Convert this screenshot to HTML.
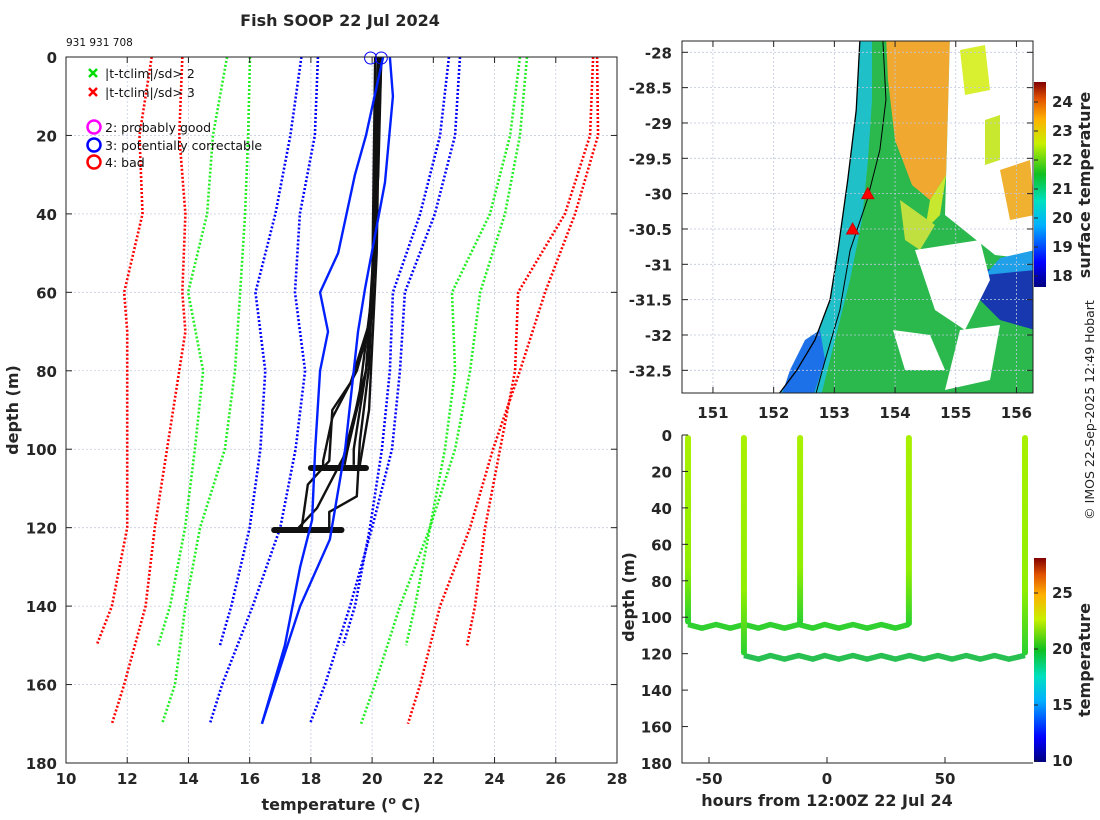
<!DOCTYPE html>
<html><head><meta charset="utf-8"><style>
body{margin:0;background:#fff}
svg{display:block;font-family:"DejaVu Sans","Liberation Sans",sans-serif}
.tk{font-size:15px;font-weight:bold;fill:#262626}
.lab{font-size:16px;font-weight:bold;fill:#262626}
.lg{font-size:12.5px;fill:#111}
</style></head><body>
<svg id="s" width="1100" height="820" viewBox="0 0 1100 820">
<text x="340" y="26" text-anchor="middle" class="lab">Fish SOOP 22 Jul 2024</text>
<text x="66" y="46" font-size="10.5" fill="#111">931 931 708</text>
<g id="left"></g>
<g id="map"></g>
<g id="sec"></g>
<text transform="translate(1094,410) rotate(-90)" text-anchor="middle" font-size="12.5" fill="#222">© IMOS 22-Sep-2025 12:49 Hobart</text>
</svg>
<script>
// ---------- Left profile plot data ----------
const tTicks=[10,12,14,16,18,20,22,24,26,28];
const dTicks=[0,20,40,60,80,100,120,140,160,180];
const climDepthA=[0,20,40,60,80,100,120,140,150];
const climDepthB=[0,20,40,60,80,100,120,140,160,170];
const redL1D=[0,20,40,60,70,120,140,150];
const redL1=[12.8,12.4,12.5,11.9,12.0,12.0,11.5,11.0];
const redL2D=[0,20,40,60,70,120,140,160,170];
const redL2=[13.8,13.7,13.9,13.8,13.9,12.9,12.6,11.9,11.5];
const greenL1=[15.26,14.8,14.61,13.99,14.48,14.21,13.89,13.4,13.01];
const greenL2=[16.01,15.95,15.85,15.69,15.52,15.19,14.38,13.9,13.56,13.14];
const blueL1=[17.69,17.33,16.84,16.19,16.51,16.35,16.0,15.4,15.03];
const blueL2=[18.23,18.13,17.64,17.48,17.81,17.5,17.0,16.1,15.1,14.7];
const blueR1=[22.51,22.22,21.57,20.68,20.58,20.32,19.93,19.44,19.05];
const blueR2=[22.87,22.71,22.05,21.07,20.91,20.65,20.0,19.28,18.46,17.97];
const greenR1=[24.83,24.51,23.85,22.61,22.71,22.38,21.89,21.4,21.11];
const greenR2=[25.06,24.83,24.34,23.53,23.2,22.71,21.89,20.91,20.09,19.64];
const redR1=[27.22,27.12,26.3,24.77,24.67,24.18,23.69,23.36,23.1];
const redR2=[27.35,27.38,26.63,25.65,24.83,23.95,23.2,22.22,21.57,21.17];
const blueAD=[0,20,30,50,60,70,80,100,118,130,150,170];
const blueA=[20.36,19.8,19.44,18.89,18.3,18.56,18.3,18.14,18.04,17.65,17.15,16.4];
const blueBD=[0,10,32,59,70,100,123,140,170];
const blueB=[20.58,20.68,20.42,19.77,19.54,19.12,18.62,17.65,16.4];
const blackD=[[0,30,66,80,92,103,105],[0,30,68,83,90,103,109,120,121],[0,40,75,100,104],[0,40,79,98,112,116,120],[0,50,80,95,104],[0,60,85,100,104],[0,60,80,100,115,120],[0,50,90,104]];
const blackT=[[20.2,20.1,20.0,19.5,18.7,18.4,18.4],[20.3,20.2,19.9,19.3,18.7,18.6,17.9,17.7,17.7],[20.2,20.1,19.9,19.4,19.4],[20.1,20.1,19.9,19.6,19.5,18.6,18.6],[20.3,20.1,19.8,19.3,19.0],[20.2,20.0,19.6,19.2,19.1],[20.1,20.0,19.8,19.2,18.2,17.6],[20.25,20.15,19.9,19.6]];
const blobDepth=[104.8,120.6];
const blobStart=[18.0,16.8];
const blobEnd=[19.8,19.0];
const topCircles=[19.95,20.3];

const NS='http://www.w3.org/2000/svg';
function mk(tag,attrs,parent){const e=document.createElementNS(NS,tag);for(const k in attrs)e.setAttribute(k,attrs[k]);parent.appendChild(e);return e;}
const L=document.getElementById('left');
const lx=t=>66+(t-10)*(617-66)/18;
const ly=d=>57+d*(763-57)/180;
tTicks.forEach(t=>{if(t>10&&t<28){const g=mk('line',{x1:lx(t),x2:lx(t),y1:57,y2:763,stroke:'#c5cce0','stroke-width':0.8,'stroke-dasharray':'2,2'},L);}});
dTicks.forEach(d=>{if(d>0&&d<180){const g=mk('line',{x1:66,x2:617,y1:ly(d),y2:ly(d),stroke:'#c5cce0','stroke-width':0.8,'stroke-dasharray':'2,2'},L);}});
function prof(D,T,color,dotted,w,name){
  const p=mk('polyline',{points:T.map((t,i)=>lx(t)+','+ly(D[i])).join(' '),fill:'none',stroke:color,'stroke-width':w,'stroke-dasharray':dotted?'2,2':'none','stroke-linejoin':'round'},L);
  
  
}
prof(redL1D,redL1,'#f00',1,2.6,'clim-3sd-left-a');
prof(redL2D,redL2,'#f00',1,2.6,'clim-3sd-left-b');
prof(climDepthA,greenL1,'#2e2',1,2.6,'clim-2sd-left-a');
prof(climDepthB,greenL2,'#2e2',1,2.6,'clim-2sd-left-b');
prof(climDepthA,blueL1,'#00f',1,2.6,'clim-mean-left-a');
prof(climDepthB,blueL2,'#00f',1,2.6,'clim-mean-left-b');
prof(climDepthA,blueR1,'#00f',1,2.6,'clim-mean-right-a');
prof(climDepthB,blueR2,'#00f',1,2.6,'clim-mean-right-b');
prof(climDepthA,greenR1,'#2e2',1,2.6,'clim-2sd-right-a');
prof(climDepthB,greenR2,'#2e2',1,2.6,'clim-2sd-right-b');
prof(climDepthA,redR1,'#f00',1,2.6,'clim-3sd-right-a');
prof(climDepthB,redR2,'#f00',1,2.6,'clim-3sd-right-b');
blackD.forEach((D,i)=>prof(D,blackT[i],'#111',0,2.4,'xbt-profile'));
blobDepth.forEach((d,i)=>{
  const b=mk('line',{x1:lx(blobStart[i]),x2:lx(blobEnd[i]),y1:ly(d),y2:ly(d),stroke:'#111','stroke-width':6,'stroke-linecap':'round'},L);
  
  
});
prof(blueAD,blueA,'#0020ff',0,2.4,'flagged-profile-a');
prof(blueBD,blueB,'#0020ff',0,2.4,'flagged-profile-b');
topCircles.forEach(t=>{const c=mk('circle',{cx:lx(t),cy:ly(0)+1,r:6,fill:'none',stroke:'#00f','stroke-width':1},L);});
const ax=mk('rect',{x:66,y:57,width:551,height:706,fill:'none',stroke:'#222','stroke-width':1},L);

tTicks.forEach(t=>{mk('line',{x1:lx(t),x2:lx(t),y1:763,y2:757,stroke:'#222'},L);mk('line',{x1:lx(t),x2:lx(t),y1:57,y2:63,stroke:'#222'},L);
  const tx=mk('text',{x:lx(t),y:784,'text-anchor':'middle',class:'tk'},L);tx.textContent=t;});
dTicks.forEach(d=>{mk('line',{x1:66,x2:72,y1:ly(d),y2:ly(d),stroke:'#222'},L);mk('line',{x1:617,x2:611,y1:ly(d),y2:ly(d),stroke:'#222'},L);
  const tx=mk('text',{x:57,y:ly(d)+6,'text-anchor':'end',class:'tk'},L);tx.textContent=d;});
let t1=mk('text',{x:341,y:810,'text-anchor':'middle',class:'lab'},L);t1.innerHTML='temperature (<tspan dy="-6" font-size="11">o</tspan><tspan dy="6"> C)</tspan>';
let t2=mk('text',{transform:'translate(18,410) rotate(-90)','text-anchor':'middle',class:'lab'},L);t2.textContent='depth (m)';
const lgItems=[['x','#0d0','|t-tclim|/sd> 2',74],['x','#f00','|t-tclim|/sd> 3',93],['o','#f0f','2: probably good',128],['o','#00f','3: potentially correctable',146],['o','#f00','4: bad',163]];
lgItems.forEach(it=>{
  const g=mk('g',{},L);
  if(it[0]=='x'){mk('path',{d:`M89 ${it[3]-5}l8 8M97 ${it[3]-5}l-8 8`,stroke:it[1],'stroke-width':2.5},g);}
  else mk('circle',{cx:94,cy:it[3]-1,r:6.5,fill:'none',stroke:it[1],'stroke-width':2.5},g);
  const tx=mk('text',{x:105,y:it[3]+4,class:'lg'},g);tx.textContent=it[2];
});

// ---------- Map ----------
const lonTicks=[151,152,153,154,155,156];
const latTicks=[-28,-28.5,-29,-29.5,-30,-30.5,-31,-31.5,-32,-32.5];
const coastLon=[153.42,153.36,153.22,153.06,152.93,152.68,152.38,152.10];
const coastLat=[-27.84,-28.82,-29.81,-30.80,-31.50,-32.07,-32.50,-32.82];
const isoLon=[153.80,153.85,153.75,153.54,153.26,153.09,152.85,152.70];
const isoLat=[-27.84,-28.67,-29.38,-30.09,-30.80,-31.65,-32.35,-32.82];
const shipLon=[153.55,153.3];
const shipLat=[-30.0,-30.5];
const sstTicks=[18,19,20,21,22,23,24];
const M=document.getElementById('map');
const mx=lo=>682+(lo-150.49)*60.7;
const my=la=>41+(-27.84-la)*70.67;
const jet=[[0,'#00007f'],[0.12,'#0000ff'],[0.3,'#00b0ff'],[0.42,'#00e0c0'],[0.55,'#10c020'],[0.7,'#c8f000'],[0.82,'#ffb000'],[0.92,'#e05000'],[1,'#800000']];
const defs=mk('defs',{},document.getElementById('s'));
function grad(id,x1,y1,x2,y2){const g=mk('linearGradient',{id,x1,y1,x2,y2},defs);jet.forEach(s=>mk('stop',{offset:s[0],'stop-color':s[1]},g));}
grad('cbv','0','1','0','0');
mk('clipPath',{id:'mclip'},defs).appendChild((()=>{const r=document.createElementNS(NS,'rect');r.setAttribute('x',682);r.setAttribute('y',41);r.setAttribute('width',351);r.setAttribute('height',352);return r;})());
const MG=mk('g',{'clip-path':'url(#mclip)'},M);
const coastPts=coastLon.map((l,i)=>mx(l)+','+my(coastLat[i]));
function poly(pts,fill,name){const p=mk('polygon',{points:pts,fill},MG);}
poly(coastPts.join(' ')+' 1040,400 1040,35','#2bb84c','sst-ocean');
poly(coastPts.join(' ')+' 820,400 835,340 850,280 862,220 868,160 872,100 872,35','#20c0c8','sst-coastal-band');
poly('780,400 790,370 805,340 820,330 825,360 812,400','#1c70e8','sst-cool-coastal');
poly('886,35 950,35 948,110 946,175 930,200 912,185 895,140 888,80','#f0a830','sst-warm-core');
poly('930,200 946,175 950,150 940,215 925,230','#c8e830','sst-warm-fringe');
poly('900,200 935,225 920,250 905,240','#c0e040','sst-front');
poly('950,35 1040,35 1040,260 995,255 970,235 945,215 948,110','#ffffff','sst-cloud-gap');
poly('1000,170 1030,160 1035,215 1010,220','#f0b030','sst-warm-eddy');
poly('985,270 1035,260 1035,330 1000,320 980,300','#1838b0','sst-cool-eddy');
poly('1000,258 1035,250 1035,270 985,275','#20a0e8','sst-eddy-edge');
poly('893,330 930,335 945,370 905,370','#ffffff','sst-cloud-gap-2');
poly('915,250 980,240 990,280 965,330 935,310','#ffffff','sst-cloud-gap-3');
poly('960,330 1000,325 990,380 945,390','#ffffff','sst-cloud-gap-4');
poly('985,120 1000,115 1000,160 985,165','#c8e830','sst-speckle');
poly('960,50 985,45 990,90 965,95','#d8f030','sst-speckle');
mk('polyline',{points:coastPts.join(' '),fill:'none',stroke:'#000','stroke-width':1.3},MG);
const iso=mk('polyline',{points:isoLon.map((l,i)=>mx(l)+','+my(isoLat[i])).join(' '),fill:'none',stroke:'#000','stroke-width':1},MG);

lonTicks.forEach(l=>{mk('line',{x1:mx(l),x2:mx(l),y1:41,y2:393,stroke:'#c0c8e0','stroke-width':0.8,'stroke-dasharray':'2,2'},MG);});
latTicks.forEach(l=>{mk('line',{x1:682,x2:1033,y1:my(l),y2:my(l),stroke:'#c0c8e0','stroke-width':0.8,'stroke-dasharray':'2,2'},MG);});
shipLon.forEach((l,i)=>{const x=mx(l),y=my(shipLat[i]);const t=mk('polygon',{points:`${x-6},${y+5} ${x+6},${y+5} ${x},${y-6}`,fill:'#f00',stroke:'#c00'},MG);});
mk('rect',{x:682,y:41,width:351,height:352,fill:'none',stroke:'#222'},M);
lonTicks.forEach(l=>{mk('line',{x1:mx(l),x2:mx(l),y1:393,y2:387,stroke:'#222'},M);mk('line',{x1:mx(l),x2:mx(l),y1:41,y2:47,stroke:'#222'},M);const t=mk('text',{x:mx(l),y:418,'text-anchor':'middle',class:'tk'},M);t.textContent=l;});
latTicks.forEach(l=>{mk('line',{x1:682,x2:688,y1:my(l),y2:my(l),stroke:'#222'},M);mk('line',{x1:1033,x2:1027,y1:my(l),y2:my(l),stroke:'#222'},M);const t=mk('text',{x:672,y:my(l)+6,'text-anchor':'end',class:'tk'},M);t.textContent=l;});
const cb1=mk('rect',{x:1034,y:82,width:12,height:205,fill:'url(#cbv)'},M);
const cby=v=>276-(v-18)*29;
sstTicks.forEach(v=>{mk('line',{x1:1034,x2:1038,y1:cby(v),y2:cby(v),stroke:'#222'},M);const t=mk('text',{x:1052,y:cby(v)+5,class:'tk','font-size':'14'},M);t.textContent=v;});
let ct=mk('text',{transform:'translate(1090,185) rotate(-90)','text-anchor':'middle',class:'lab','font-size':'15'},M);ct.textContent='surface temperature';

// ---------- Depth-time section ----------
const hourTicks=[-50,0,50];
const secDTicks=[0,20,40,60,80,100,120,140,160,180];
const castHours=[-58.9,-35.2,-11.4,34.7,83.9];
const castBottom=[104,121,104,105,121];
const tow1Hours=[-58.9,-53,-47,-41,-35,-29,-24,-18,-12,-6,-1,5,11,17,23,29,34.7];
const tow1Depth=[104,106,104,106,104,106,104,106,104,106,104,106,104,106,104,106,104];
const tow2Hours=[-35.2,-29,-24,-18,-12,-6,-1,5,11,17,23,29,35,41,47,53,59,65,71,77,83.9];
const tow2Depth=[121,123,121,123,121,123,121,123,121,123,121,123,121,123,121,123,121,123,121,123,121];
const tempTicks=[10,15,20,25];
const S=document.getElementById('sec');
const sx=h=>827+h*2.36;
const sy=d=>435+d*(763-435)/180;
const tw1=mk('polyline',{points:tow1Hours.map((h,i)=>sx(h)+','+sy(tow1Depth[i])).join(' '),fill:'none',stroke:'#30d030','stroke-width':5.5,'stroke-linejoin':'round'},S);
const tw2=mk('polyline',{points:tow2Hours.map((h,i)=>sx(h)+','+sy(tow2Depth[i])).join(' '),fill:'none',stroke:'#28c050','stroke-width':5.5,'stroke-linejoin':'round'},S);
const cg=mk('linearGradient',{id:'castg',x1:'0',y1:'0',x2:'0',y2:'1'},defs);
mk('stop',{offset:0,'stop-color':'#a8f000'},cg);mk('stop',{offset:0.7,'stop-color':'#90ee00'},cg);mk('stop',{offset:1,'stop-color':'#28d030'},cg);
castHours.forEach((h,i)=>{const r=mk('rect',{x:sx(h)-3,y:sy(0),width:6,height:sy(castBottom[i])-sy(0),rx:3,fill:'url(#castg)'},S);});
mk('path',{d:`M682 435V763H1033`,fill:'none',stroke:'#222'},S);
hourTicks.forEach(h=>{mk('line',{x1:sx(h),x2:sx(h),y1:763,y2:757,stroke:'#222'},S);const t=mk('text',{x:sx(h),y:784,'text-anchor':'middle',class:'tk'},S);t.textContent=h;});
secDTicks.forEach(d=>{mk('line',{x1:682,x2:688,y1:sy(d),y2:sy(d),stroke:'#222'},S);const t=mk('text',{x:672,y:sy(d)+6,'text-anchor':'end',class:'tk'},S);t.textContent=d;});
let st=mk('text',{x:827,y:806,'text-anchor':'middle',class:'lab'},S);st.textContent='hours from 12:00Z 22 Jul 24';
let sd=mk('text',{transform:'translate(634,597) rotate(-90)','text-anchor':'middle',class:'lab'},S);sd.textContent='depth (m)';
const cb2=mk('rect',{x:1034,y:558,width:12,height:204,fill:'url(#cbv)'},S);
const tcy=v=>761-(v-10)*11.2;
tempTicks.forEach(v=>{mk('line',{x1:1034,x2:1038,y1:tcy(v),y2:tcy(v),stroke:'#222'},S);const t=mk('text',{x:1052,y:tcy(v)+5,class:'tk','font-size':'14'},S);t.textContent=v;});
let tt=mk('text',{transform:'translate(1090,660) rotate(-90)','text-anchor':'middle',class:'lab','font-size':'15'},S);tt.textContent='temperature';
</script>
</body></html>
